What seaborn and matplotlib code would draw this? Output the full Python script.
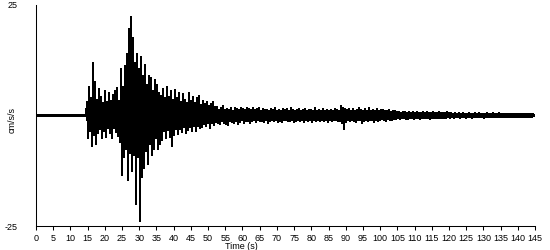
import numpy as np
import pandas as pd
import matplotlib
matplotlib.use("Agg")
import matplotlib.pyplot as plt
import seaborn as sns

# ---- data (cm/s/s), one sample per ~0.29 s ----
pre_event = [0.15, -0.15, 0.1, -0.15, 0.15, -0.1, 0.15, -0.15, 0.1, -0.15,
             0.15, -0.15, 0.1, -0.1, 0.15, -0.15, 0.15, -0.1, 0.1, -0.15,
             0.15, -0.15, 0.1, -0.15, 0.15, -0.1, 0.15, -0.15, 0.1, -0.15,
             0.15, -0.15, 0.1, -0.1, 0.15, -0.15, 0.15, -0.1, 0.1, -0.15,
             0.15, -0.15, 0.1, -0.15, 0.15, -0.1, 0.15, -0.15, 0.1, -0.15,
             0.15]
onset = [3.0, -5.0, 6.5, -3.5, 4.0, -7.0, 12.0, -4.5, 7.5, -6.5, 3.5, -4.0, 6.0,
         -3.0, 4.2, -5.2, 2.8, -3.5, 5.5, -4.8, 3.0, -2.8, 5.2,
         -4.0, 3.3, -5.0, 4.6, -2.9, 5.5, -3.8, 6.3, -4.6, 3.2]
strong_motion = [-6.0, 10.5, -13.5, 6.5, -9.5, 11.2, -7.5, 14.0, -14.7, 19.5, -8.5, 22.2,
                 -12.5, 17.5, -9.0, 12.0, -20.0, 14.0, -9.5, 10.5, -23.8, 13.2, -14.0, 9.0,
                 -12.0, 11.5,
                 -8.0, 7.0, -11.0, 9.0, -6.5, 8.5, -9.0, 5.5, -7.5, 8.0, -5.0, 6.8, -7.5, 5.0, -6.5]
decay = [4.5, -5.5, 6.0, -3.5, 4.0, -5.0, 6.5, -3.2, 4.2, -4.8,
         5.5, -7.0, 3.5, -4.5, 5.8, -3.0, 4.0, -4.2, 5.2, -3.0,
         3.0, -3.8, 4.8, -2.6, 3.5, -4.0, 2.8, -3.2, 5.0, -2.5,
         3.2, -3.5, 4.2, -2.4, 2.8, -3.6, 3.9, -2.4, 4.5, -2.8,
         2.4, -2.6, 3.4, -1.9, 2.5, -2.4, 3.0, -1.8, 2.2, -2.9,
         2.7, -1.8, 3.0, -2.2, 1.9,
         -1.4, 2.0, -1.8, 1.2, -2.0, 1.6, -1.2, 2.1, -1.6, 1.3,
         -1.9, 1.5, -2.2, 1.2, -1.3, 1.8, -1.5, 1.1, -1.8, 1.7,
         -1.2, 1.4, -1.9, 1.2, -1.5, 1.8, -1.1, 1.4, -1.6, 1.2,
         -1.3, 1.7, -1.2, 1.5, -1.6]
coda = [1.3, -1.2, 1.6, -1.1, 1.2, -1.5, 1.4, -1.0, 1.8, -1.3,
        1.1, -1.2, 1.5, -1.4, 1.2, -1.1, 1.3, -1.6, 1.0, -1.2,
        1.4, -1.0, 1.2, -1.3, 1.7, -1.1, 1.1, -1.4, 1.3, -1.2,
        1.0, -1.5, 1.5, -1.1, 1.2, -1.0, 1.4, -1.3, 1.1, -1.2,
        1.6, -1.1, 1.2, -1.4, 1.0, -1.2, 1.3, -1.0, 1.5, -1.3,
        1.1, -1.1, 1.2, -1.5, 1.4, -1.0, 1.0, -1.2, 1.3, -1.1,
        1.2, -1.4, 1.1, -1.0, 1.6, -1.2, 1.0, -1.1, 1.3, -1.3,
        1.1, -1.0, 1.4, -1.2, 1.0, -1.1, 1.2, -1.4, 1.1, -1.0,
        1.3, -1.2, 1.0, -1.1, 1.5, -1.0, 1.2, -1.3, 1.1, -1.2,
        2.2, -1.8, 1.6, -3.0, 1.5, -1.4,
        1.2, -1.0, 1.4, -1.3, 1.1, -1.0, 1.5, -1.2, 1.0, -1.4,
        1.3, -1.1, 1.8, -1.0, 1.2, -1.6, 1.0, -1.2, 1.4, -1.0,
        1.1, -1.3, 1.6, -1.1, 1.0, -1.0, 1.3, -1.5, 1.1, -1.0,
        1.4, -1.2, 1.0, -1.1, 1.2, -0.9, 1.3, -1.0, 1.0, -1.2,
        1.1, -0.9, 1.2, -1.0, 0.9, -1.1, 1.0, -0.9, 1.1]
tail = [-0.8, 0.7, -0.6, 0.8, -0.7, 0.6, -0.5, 0.9, -0.6, 0.7,
        -0.7, 0.6, -0.8, 0.7, -0.5, 0.6, -0.6, 0.8, -0.7, 0.6,
        -0.5, 0.7, -0.6, 0.6, -0.7, 0.5, -0.6, 0.8, -0.5, 0.6,
        -0.6, 0.7, -0.5, 0.6, -0.7, 0.6, -0.5, 0.7, -0.6, 0.5,
        -0.5, 0.6, -0.6, 0.7, -0.5, 0.6, -0.6, 0.5, -0.5, 0.6,
        -0.5, 0.7, -0.4, 0.5, -0.5,
        0.5, -0.4, 0.4, -0.5, 0.6, -0.4, 0.4, -0.4, 0.5, -0.5,
        0.4, -0.4, 0.5, -0.3, 0.4, -0.5, 0.4, -0.4, 0.6, -0.4,
        0.4, -0.5, 0.4, -0.3, 0.5, -0.4, 0.4, -0.4, 0.5, -0.4,
        0.3, -0.4, 0.4, -0.5, 0.4, -0.3, 0.5, -0.4, 0.4, -0.4,
        0.4, -0.3, 0.5, -0.4, 0.3, -0.4, 0.4, -0.4, 0.5, -0.3,
        0.4, -0.4, 0.3, -0.4, 0.4, -0.3, 0.4, -0.4, 0.3, -0.3,
        0.4, -0.4, 0.3, -0.3, 0.4, -0.3, 0.3, -0.4, 0.3, -0.3,
        0.4, -0.3, 0.3, -0.3, 0.3, -0.4, 0.3, -0.3, 0.3, -0.3,
        0.3, -0.3, 0.3, -0.2, 0.2]

duration = 145.0
x_ticks = list(range(0, 146, 5))
y_ticks = [-25, 25]
y_label = "cm/s/s"
x_label = "Time (s)"

accel = np.array(pre_event + onset + strong_motion + decay + coda + tail)
time = np.linspace(0.0, duration, len(accel))
df = pd.DataFrame({"time": time, "accel": accel})

# ---- figure ----
sns.set_style("white")
plt.rcParams["font.family"] = ["Liberation Sans", "DejaVu Sans"]
plt.rcParams["text.color"] = "black"
plt.rcParams["axes.labelcolor"] = "black"
plt.rcParams["xtick.color"] = "black"
plt.rcParams["ytick.color"] = "black"
fig = plt.figure(figsize=(5.5, 2.5), dpi=100)
ax = fig.add_axes([36 / 550, 24 / 250, 499 / 550, 221 / 250])

sns.lineplot(data=df, x="time", y="accel", sort=False, estimator=None,
             color="black", linewidth=0.75, antialiased=False, ax=ax)

fs = 6.5
ax.set_xlim(0, duration)
ax.set_ylim(-25, 25)
ax.set_xticks(x_ticks)
ax.set_xticklabels([str(v) for v in x_ticks], fontsize=fs, color="black")
ax.set_yticks(y_ticks)
ax.set_yticklabels([str(v) for v in y_ticks], fontsize=fs, color="black")
ax.tick_params(axis="x", direction="out", length=3, width=0.75, pad=2.5,
               color="black", bottom=True)
ax.tick_params(axis="y", length=0, pad=13)
for side in ["top", "right"]:
    ax.spines[side].set_visible(False)
for side in ["left", "bottom"]:
    ax.spines[side].set_color("black")
    ax.spines[side].set_linewidth(0.75)

ax.set_xlabel(x_label, fontsize=fs, color="black", va="top")
ax.set_ylabel(y_label, fontsize=fs, color="black")
ax.xaxis.set_label_coords(0.411, -0.072)
ax.yaxis.set_label_coords(-0.038, 0.48)
ax.grid(False)

fig.savefig("out.png", dpi=100, facecolor="white")
